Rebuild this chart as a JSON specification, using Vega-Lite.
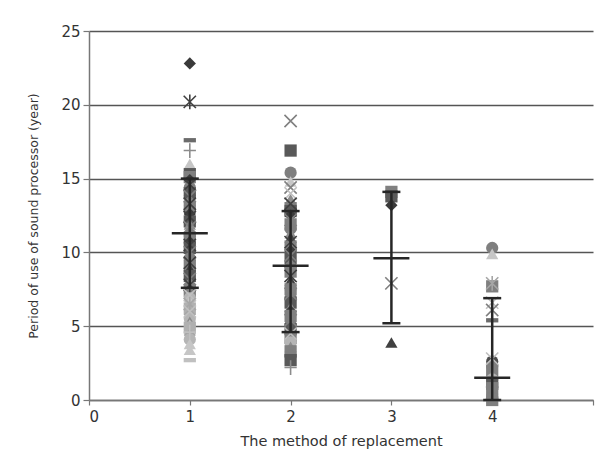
{
  "$schema": "https://vega.github.io/schema/vega-lite/v6.json",
  "autosize": "none",
  "width": 504,
  "height": 369,
  "padding": {"left": 89, "top": 31, "right": 13, "bottom": 66},
  "background": "white",
  "config": {"view": {"stroke": null}, "font": "DejaVu Sans"},
  "datasets": {
    "points": [
      {"g": 1, "v": 22.8, "s": "s1"}, {"g": 1, "v": 20.2, "s": "s16"}, {"g": 1, "v": 17.6, "s": "s5"},
      {"g": 1, "v": 16.9, "s": "s18"}, {"g": 1, "v": 16.0, "s": "s8"}, {"g": 1, "v": 15.6, "s": "s8"},
      {"g": 1, "v": 15.3, "s": "s2"}, {"g": 1, "v": 15.1, "s": "s12"}, {"g": 1, "v": 14.9, "s": "s1"},
      {"g": 1, "v": 14.6, "s": "s13"}, {"g": 1, "v": 14.4, "s": "s4"}, {"g": 1, "v": 14.2, "s": "s3"},
      {"g": 1, "v": 14.0, "s": "s2"}, {"g": 1, "v": 13.8, "s": "s14"}, {"g": 1, "v": 13.5, "s": "s11"},
      {"g": 1, "v": 13.3, "s": "s16"}, {"g": 1, "v": 13.1, "s": "s12"}, {"g": 1, "v": 12.8, "s": "s4"},
      {"g": 1, "v": 12.6, "s": "s1"}, {"g": 1, "v": 12.4, "s": "s13"}, {"g": 1, "v": 12.1, "s": "s2"},
      {"g": 1, "v": 11.9, "s": "s11"}, {"g": 1, "v": 11.7, "s": "s14"}, {"g": 1, "v": 11.4, "s": "s3"},
      {"g": 1, "v": 11.2, "s": "s4"}, {"g": 1, "v": 11.0, "s": "s12"}, {"g": 1, "v": 10.7, "s": "s1"},
      {"g": 1, "v": 10.5, "s": "s16"}, {"g": 1, "v": 10.3, "s": "s2"}, {"g": 1, "v": 10.0, "s": "s14"},
      {"g": 1, "v": 9.8, "s": "s11"}, {"g": 1, "v": 9.6, "s": "s4"}, {"g": 1, "v": 9.3, "s": "s13"},
      {"g": 1, "v": 9.1, "s": "s12"}, {"g": 1, "v": 8.9, "s": "s3"}, {"g": 1, "v": 8.6, "s": "s1"},
      {"g": 1, "v": 8.4, "s": "s2"}, {"g": 1, "v": 8.2, "s": "s14"}, {"g": 1, "v": 8.0, "s": "s11"},
      {"g": 1, "v": 7.8, "s": "s16"}, {"g": 1, "v": 7.6, "s": "s4"}, {"g": 1, "v": 7.4, "s": "s12"},
      {"g": 1, "v": 7.1, "s": "s15"}, {"g": 1, "v": 6.9, "s": "s9"}, {"g": 1, "v": 6.7, "s": "s8"},
      {"g": 1, "v": 6.5, "s": "s17"}, {"g": 1, "v": 6.2, "s": "s7"}, {"g": 1, "v": 6.0, "s": "s15"},
      {"g": 1, "v": 5.8, "s": "s6"}, {"g": 1, "v": 5.5, "s": "s9"}, {"g": 1, "v": 5.3, "s": "s11"},
      {"g": 1, "v": 5.1, "s": "s8"}, {"g": 1, "v": 4.9, "s": "s7"}, {"g": 1, "v": 4.6, "s": "s19"},
      {"g": 1, "v": 4.4, "s": "s6"}, {"g": 1, "v": 4.1, "s": "s9"}, {"g": 1, "v": 3.8, "s": "s8"},
      {"g": 1, "v": 3.4, "s": "s8"}, {"g": 1, "v": 2.7, "s": "s10"},

      {"g": 2, "v": 18.9, "s": "s14"}, {"g": 2, "v": 16.9, "s": "s2"}, {"g": 2, "v": 15.4, "s": "s4"},
      {"g": 2, "v": 14.8, "s": "s8"}, {"g": 2, "v": 14.4, "s": "s14"}, {"g": 2, "v": 14.0, "s": "s15"},
      {"g": 2, "v": 13.6, "s": "s11"}, {"g": 2, "v": 13.3, "s": "s13"}, {"g": 2, "v": 13.0, "s": "s12"},
      {"g": 2, "v": 12.8, "s": "s2"}, {"g": 2, "v": 12.5, "s": "s1"}, {"g": 2, "v": 12.2, "s": "s14"},
      {"g": 2, "v": 11.9, "s": "s12"}, {"g": 2, "v": 11.6, "s": "s4"}, {"g": 2, "v": 11.3, "s": "s11"},
      {"g": 2, "v": 11.0, "s": "s3"}, {"g": 2, "v": 10.7, "s": "s16"}, {"g": 2, "v": 10.4, "s": "s12"},
      {"g": 2, "v": 10.1, "s": "s1"}, {"g": 2, "v": 9.8, "s": "s14"}, {"g": 2, "v": 9.6, "s": "s2"},
      {"g": 2, "v": 9.3, "s": "s11"}, {"g": 2, "v": 9.0, "s": "s4"}, {"g": 2, "v": 8.7, "s": "s12"},
      {"g": 2, "v": 8.4, "s": "s13"}, {"g": 2, "v": 8.1, "s": "s3"}, {"g": 2, "v": 7.8, "s": "s11"},
      {"g": 2, "v": 7.5, "s": "s12"}, {"g": 2, "v": 7.2, "s": "s14"}, {"g": 2, "v": 6.9, "s": "s4"},
      {"g": 2, "v": 6.6, "s": "s2"}, {"g": 2, "v": 6.3, "s": "s11"}, {"g": 2, "v": 6.0, "s": "s1"},
      {"g": 2, "v": 5.7, "s": "s12"}, {"g": 2, "v": 5.4, "s": "s14"}, {"g": 2, "v": 5.1, "s": "s4"},
      {"g": 2, "v": 4.8, "s": "s2"}, {"g": 2, "v": 4.5, "s": "s15"}, {"g": 2, "v": 4.2, "s": "s12"},
      {"g": 2, "v": 3.9, "s": "s9"}, {"g": 2, "v": 3.6, "s": "s11"}, {"g": 2, "v": 3.3, "s": "s12"},
      {"g": 2, "v": 3.0, "s": "s4"}, {"g": 2, "v": 2.7, "s": "s2"}, {"g": 2, "v": 2.2, "s": "s18"},

      {"g": 3, "v": 14.1, "s": "s12"}, {"g": 3, "v": 13.8, "s": "s2"}, {"g": 3, "v": 13.2, "s": "s1"},
      {"g": 3, "v": 7.9, "s": "s14"}, {"g": 3, "v": 3.9, "s": "s3"},

      {"g": 4, "v": 10.3, "s": "s4"}, {"g": 4, "v": 9.9, "s": "s8"}, {"g": 4, "v": 7.9, "s": "s17"},
      {"g": 4, "v": 7.7, "s": "s12"}, {"g": 4, "v": 6.6, "s": "s15"}, {"g": 4, "v": 6.1, "s": "s14"},
      {"g": 4, "v": 5.4, "s": "s5"}, {"g": 4, "v": 2.8, "s": "s15"}, {"g": 4, "v": 2.6, "s": "s20"},
      {"g": 4, "v": 2.3, "s": "s4"}, {"g": 4, "v": 2.0, "s": "s12"}, {"g": 4, "v": 1.7, "s": "s11"},
      {"g": 4, "v": 1.4, "s": "s9"}, {"g": 4, "v": 1.1, "s": "s2"}, {"g": 4, "v": 0.8, "s": "s12"},
      {"g": 4, "v": 0.5, "s": "s14"}, {"g": 4, "v": 0.2, "s": "s4"}, {"g": 4, "v": 0.0, "s": "s12"}
    ],
    "bars": [
      {"g": 1, "mean": 11.3, "lo": 7.6, "hi": 15.0},
      {"g": 2, "mean": 9.1, "lo": 4.6, "hi": 12.8},
      {"g": 3, "mean": 9.6, "lo": 5.2, "hi": 14.1},
      {"g": 4, "mean": 1.5, "lo": 0.0, "hi": 6.9}
    ]
  },
  "layer": [
    {
      "data": {"name": "points"},
      "transform": [{"filter": {"field": "s", "oneOf": ["s1","s2","s3","s4","s5","s6","s7","s8","s9","s10","s11","s12","s20"]}}],
      "mark": {"type": "point", "filled": true, "size": 150, "opacity": 1},
      "encoding": {
        "x": {"field": "g", "type": "quantitative", "scale": {"domain": [0, 5], "nice": false},
          "title": "The method of replacement",
          "axis": {"values": [0,1,2,3,4,5], "format": "d", "labelExpr": "datum.value == 5 ? '' : datum.label", "grid": false,
            "domainColor": "#777777", "domainWidth": 1.5, "tickColor": "#777777", "tickSize": 5, "tickWidth": 1.2,
            "labelFontSize": 15, "labelColor": "#333333", "labelPadding": 4, "labelFont": "DejaVu Sans",
            "titleFontSize": 14.5, "titleFontWeight": "normal", "titleColor": "#333333", "titlePadding": 10, "titleFont": "DejaVu Sans"}},
        "y": {"field": "v", "type": "quantitative", "scale": {"domain": [0, 25], "nice": false},
          "title": "Period of use of sound processor (year)",
          "axis": {"values": [0,5,10,15,20,25], "grid": true, "gridColor": "#555555", "gridWidth": 1.6,
            "domainColor": "#777777", "domainWidth": 1.5, "tickColor": "#777777", "tickSize": 6, "tickWidth": 1.2,
            "labelFontSize": 15, "labelColor": "#333333", "labelPadding": 3, "labelFont": "DejaVu Sans",
            "titleFontSize": 12.5, "titleFontWeight": "normal", "titleColor": "#333333", "titlePadding": 20, "titleFont": "DejaVu Sans"}},
        "shape": {"field": "s", "type": "nominal", "legend": null,
          "scale": {"domain": ["s1","s2","s3","s4","s5","s6","s7","s8","s9","s10","s11","s12","s13","s14","s15","s16","s17","s18","s19","s20"],
            "range": ["diamond","square","triangle-up","circle","M-1,-0.35L1,-0.35L1,0.35L-1,0.35Z","diamond","square","triangle-up","circle","M-1,-0.35L1,-0.35L1,0.35L-1,0.35Z","triangle-up","square",
              "M-1,-1L1,1M-1,1L1,-1","M-1,-1L1,1M-1,1L1,-1","M-1,-1L1,1M-1,1L1,-1","M-1,-1L1,1M-1,1L1,-1M0,-1.2L0,1.2","M-1,-1L1,1M-1,1L1,-1M0,-1.2L0,1.2","M-1,0L1,0M0,-1.2L0,1.2","M-1,0L1,0M0,-1.2L0,1.2","circle"]}},
        "color": {"field": "s", "type": "nominal", "legend": null,
          "scale": {"domain": ["s1","s2","s3","s4","s5","s6","s7","s8","s9","s10","s11","s12","s13","s14","s15","s16","s17","s18","s19","s20"],
            "range": ["#3a3a3a","#595959","#404040","#7f7f7f","#6b6b6b","#a6a6a6","#b0b0b0","#c6c6c6","#b5b5b5","#c0c0c0","#8c8c8c","#808080",
              "#404040","#808080","#bfbfbf","#404040","#a6a6a6","#8c8c8c","#bfbfbf","#4d4d4d"]}}
      }
    },
    {
      "data": {"name": "points"},
      "transform": [{"filter": {"field": "s", "oneOf": ["s13","s14","s15","s16","s17","s18","s19"]}}],
      "mark": {"type": "point", "filled": false, "size": 150, "strokeWidth": 1.6, "opacity": 1},
      "encoding": {
        "x": {"field": "g", "type": "quantitative", "title": "The method of replacement"},
        "y": {"field": "v", "type": "quantitative", "title": "Period of use of sound processor (year)"},
        "shape": {"field": "s", "type": "nominal", "legend": null},
        "color": {"field": "s", "type": "nominal", "legend": null}
      }
    },
    {
      "data": {"name": "bars"},
      "mark": {"type": "rule", "strokeWidth": 2.5, "color": "#262626"},
      "encoding": {
        "x": {"field": "g", "type": "quantitative", "title": "The method of replacement"},
        "y": {"field": "lo", "type": "quantitative", "title": "Period of use of sound processor (year)"},
        "y2": {"field": "hi"}
      }
    },
    {
      "data": {"name": "bars"},
      "mark": {"type": "tick", "orient": "horizontal", "size": 18, "thickness": 2.5, "color": "#262626", "opacity": 1},
      "encoding": {
        "x": {"field": "g", "type": "quantitative", "title": "The method of replacement"},
        "y": {"field": "lo", "type": "quantitative", "title": "Period of use of sound processor (year)"}
      }
    },
    {
      "data": {"name": "bars"},
      "mark": {"type": "tick", "orient": "horizontal", "size": 18, "thickness": 2.5, "color": "#262626", "opacity": 1},
      "encoding": {
        "x": {"field": "g", "type": "quantitative", "title": "The method of replacement"},
        "y": {"field": "hi", "type": "quantitative", "title": "Period of use of sound processor (year)"}
      }
    },
    {
      "data": {"name": "bars"},
      "mark": {"type": "tick", "orient": "horizontal", "size": 36, "thickness": 2.5, "color": "#262626", "opacity": 1},
      "encoding": {
        "x": {"field": "g", "type": "quantitative", "title": "The method of replacement"},
        "y": {"field": "mean", "type": "quantitative", "title": "Period of use of sound processor (year)"}
      }
    }
  ]
}
